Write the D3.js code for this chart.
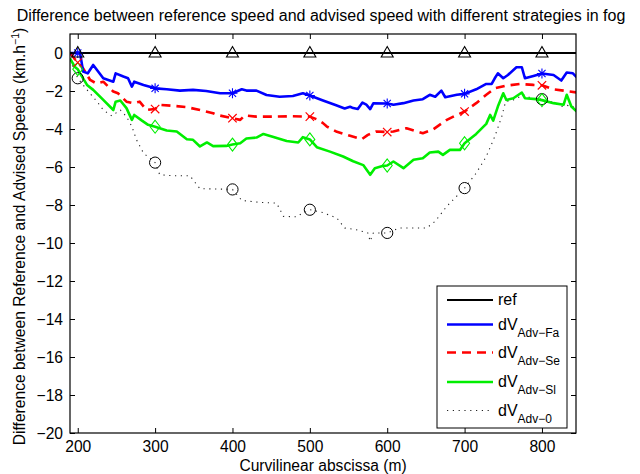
<!DOCTYPE html>
<html>
<head>
<meta charset="utf-8">
<script src="https://cdn.jsdelivr.net/npm/d3@7"></script>
<style>
  html, body { margin: 0; padding: 0; background: #fff; }
  svg { display: block; font-family: "Liberation Sans", Arial, Helvetica, sans-serif; }
</style>
</head>
<body>
<svg id="chart" width="640" height="474"></svg>
<script>
// Curvilinear abscissa (m) vs. speed difference (km/h)
const xTicks = [200, 300, 400, 500, 600, 700, 800];
const yTicks = [0, -2, -4, -6, -8, -10, -12, -14, -16, -18, -20];
const markerX = [200, 300, 400, 500, 600, 700, 800];

const refSeries = [[190, 0], [200, 0], [300, 0], [400, 0], [500, 0], [600, 0], [700, 0], [800, 0], [845, 0]];

const faSeries = [[190,0],[200,0],[203,0],[207,-0.98],[213,-1.07],[220,-0.63],[233,-1.33],[246,-1.51],[249,-1.07],[259,-1.24],[265,-1.33],[270,-1.77],[273,-1.51],[285,-1.68],[300,-1.86],[315,-1.91],[332,-1.98],[349,-1.94],[366,-2.0],[384,-2.12],[400,-2.12],[412,-1.91],[418,-1.98],[431,-1.98],[444,-2.21],[461,-2.3],[478,-2.26],[491,-2.12],[500,-2.24],[517,-2.5],[534,-2.75],[545,-2.92],[552,-2.83],[556,-2.9],[562,-2.95],[568,-2.61],[573,-2.72],[578,-2.95],[582,-2.65],[600,-2.66],[608,-2.72],[621,-2.64],[634,-2.5],[646,-2.43],[655,-2.2],[662,-2.3],[670,-1.98],[675,-2.33],[690,-2.2],[700,-2.15],[715,-1.91],[728,-1.63],[735,-1.63],[739,-1.33],[743,-1.07],[750,-1.33],[756,-1.16],[767,-0.75],[774,-0.75],[778,-1.33],[789,-1.21],[800,-1.08],[815,-1.16],[825,-1.45],[832,-1.03],[840,-1.07],[845,-1.28]];

const seSeries = [[190,0],[199,-0.46],[200,-0.5],[207,-0.81],[216,-1.42],[224,-1.6],[233,-1.51],[246,-2.03],[252,-2.12],[263,-2.56],[272,-2.65],[280,-2.56],[289,-3.0],[300,-2.95],[306,-2.73],[323,-2.78],[341,-2.85],[358,-3.0],[375,-3.17],[380,-3.26],[400,-3.43],[410,-3.52],[416,-3.28],[431,-3.35],[453,-3.35],[478,-3.33],[500,-3.35],[509,-3.49],[517,-3.69],[522,-3.87],[535,-4.15],[552,-4.36],[567,-4.54],[575,-4.31],[586,-4.13],[600,-4.16],[608,-4.13],[625,-3.96],[646,-4.22],[659,-4.03],[677,-3.52],[690,-3.26],[700,-3.08],[715,-2.64],[728,-2.2],[739,-1.86],[752,-1.73],[771,-1.63],[789,-1.68],[800,-1.7],[815,-1.91],[828,-1.98],[845,-2.08]];

const slSeries = [[190,-0.28],[196,-0.72],[200,-0.85],[203,-1.07],[212,-1.68],[220,-1.94],[233,-2.47],[246,-3.0],[249,-2.56],[255,-2.5],[263,-2.9],[270,-3.52],[273,-3.26],[283,-3.56],[291,-3.78],[300,-3.88],[315,-4.08],[328,-4.13],[341,-4.54],[349,-4.57],[358,-4.92],[367,-4.71],[375,-4.9],[392,-4.89],[400,-4.82],[410,-4.75],[418,-4.5],[431,-4.45],[440,-4.26],[453,-4.42],[470,-4.63],[485,-4.71],[491,-4.43],[500,-4.55],[509,-4.96],[526,-5.19],[543,-5.45],[556,-5.7],[569,-5.9],[578,-6.41],[584,-6.06],[595,-5.94],[600,-5.92],[608,-5.71],[621,-6.06],[634,-5.62],[646,-5.54],[655,-5.24],[666,-5.19],[672,-5.36],[681,-5.1],[694,-5.1],[700,-4.75],[715,-4.26],[728,-3.73],[733,-3.26],[737,-3.56],[743,-2.82],[750,-2.12],[754,-2.47],[763,-2.38],[774,-2.08],[778,-2.38],[793,-2.43],[800,-2.48],[815,-2.64],[828,-2.72],[832,-2.2],[838,-2.82],[845,-3.08]];

const zeroSeries = [[190,-0.37],[200,-1.33],[212,-1.94],[225,-2.56],[233,-3.0],[244,-3.31],[255,-3.0],[263,-3.35],[270,-3.87],[276,-4.57],[285,-5.27],[300,-5.77],[306,-6.41],[323,-6.46],[345,-6.46],[354,-6.94],[358,-7.14],[380,-7.16],[400,-7.18],[412,-7.76],[435,-7.86],[457,-7.9],[466,-8.6],[483,-8.62],[487,-8.51],[500,-8.25],[517,-8.4],[535,-8.69],[545,-9.21],[560,-9.3],[575,-9.47],[578,-9.91],[582,-9.47],[600,-9.47],[616,-9.21],[651,-9.21],[662,-8.86],[677,-8.07],[700,-7.11],[715,-6.32],[728,-5.45],[739,-4.4],[748,-3.35],[753,-2.56],[763,-2.47],[776,-2.2],[789,-2.43],[800,-2.43],[815,-2.61],[825,-2.82],[832,-2.75],[840,-2.82],[845,-3.1]];

const seriesNames = ["ref", "Fa", "Se", "Sl", "0"];

const margin = { left: 70, right: 64, top: 34, bottom: 41 };
const W = 640, H = 474;
const svg = d3.select("#chart");

const x = d3.scaleLinear().domain([190, 844]).range([margin.left, W - margin.right]);
const y = d3.scaleLinear().domain([-20, 1]).range([H - margin.bottom, margin.top]);

const plotW = W - margin.left - margin.right;
const plotH = H - margin.top - margin.bottom;

const defs = svg.append("defs");
defs.append("clipPath").attr("id", "plot-clip")
  .append("rect").attr("x", margin.left).attr("y", margin.top).attr("width", plotW).attr("height", plotH);

const labelFont = 15.6;

// Title
svg.append("text")
  .attr("x", 321).attr("y", 21)
  .attr("text-anchor", "middle")
  .attr("font-size", 16)
  .text("Difference between reference speed and advised speed with different strategies in fog");

// Axes (ticks pointing inward, MATLAB style)
const tickLen = 5;
const axisBottom = d3.axisBottom(x).tickValues(xTicks).tickSizeInner(-tickLen).tickSizeOuter(0).tickPadding(8);
const axisTop = d3.axisTop(x).tickValues(xTicks).tickSizeInner(-tickLen).tickSizeOuter(0).tickFormat("");
const fmt = d => (d < 0 ? "\u2212" + Math.abs(d) : String(d));
const axisLeft = d3.axisLeft(y).tickValues(yTicks).tickSizeInner(-tickLen).tickSizeOuter(0).tickPadding(7).tickFormat(fmt);
const axisRight = d3.axisRight(y).tickValues(yTicks).tickSizeInner(-tickLen).tickSizeOuter(0).tickFormat("");

const gB = svg.append("g").attr("transform", `translate(0,${H - margin.bottom})`).call(axisBottom);
const gT = svg.append("g").attr("transform", `translate(0,${margin.top})`).call(axisTop);
const gL = svg.append("g").attr("transform", `translate(${margin.left},0)`).call(axisLeft);
const gR = svg.append("g").attr("transform", `translate(${W - margin.right},0)`).call(axisRight);
[gB, gT, gL, gR].forEach(g => {
  g.select(".domain").remove();
  g.selectAll(".tick line").attr("stroke", "#000").attr("stroke-width", 1);
  g.selectAll("text").attr("font-size", labelFont).attr("fill", "#000")
    .attr("font-family", "'Liberation Sans', Arial, Helvetica, sans-serif");
});

// Axis labels
svg.append("text")
  .attr("x", 323).attr("y", 471)
  .attr("text-anchor", "middle")
  .attr("font-size", labelFont)
  .text("Curvilinear abscissa (m)");

const yl = svg.append("text")
  .attr("transform", `translate(25,${(margin.top + H - margin.bottom) / 2 + 3}) rotate(-90)`)
  .attr("text-anchor", "middle")
  .attr("font-size", labelFont);
yl.append("tspan").text("Difference between Reference and Advised Speeds (km.h");
yl.append("tspan").attr("dy", -6).attr("font-size", 10.5).text("\u22121");
yl.append("tspan").attr("dy", 6).text(")");

// Data lines
const line = d3.line().x(d => x(d[0])).y(d => y(d[1]));
const plot = svg.append("g").attr("clip-path", "url(#plot-clip)");

const styles = {
  ref:  { color: "#000000", width: 2.2, dash: null },
  Fa:   { color: "#0000ff", width: 2.6, dash: null },
  Se:   { color: "#ff0000", width: 2.6, dash: "9,6" },
  Sl:   { color: "#00ee00", width: 2.6, dash: null },
  "0":  { color: "#222222", width: 1.1, dash: "1.2,4.6" }
};
const dataByName = { ref: refSeries, Fa: faSeries, Se: seSeries, Sl: slSeries, "0": zeroSeries };

["0", "Sl", "Se", "Fa", "ref"].forEach(name => {
  const s = styles[name];
  plot.append("path")
    .datum(dataByName[name])
    .attr("fill", "none")
    .attr("stroke", s.color)
    .attr("stroke-width", s.width)
    .attr("stroke-dasharray", s.dash)
    .attr("stroke-linejoin", "round")
    .attr("d", line);
});

// Marker glyphs
const markerPath = {
  ref: () => "M0,-6.5L6,4L-6,4Z",
  Fa: () => "M-5,0L5,0M0,-5L0,5M-3.6,-3.6L3.6,3.6M-3.6,3.6L3.6,-3.6",
  Se: () => "M-4.2,-4.2L4.2,4.2M-4.2,4.2L4.2,-4.2",
  Sl: () => "M0,-6.5L5,0L0,6.5L-5,0Z",
  "0": () => d3.symbol().type(d3.symbolCircle).size(Math.PI * 5.6 * 5.6)()
};
const markerStroke = { ref: 1.1, Fa: 1.1, Se: 1.2, Sl: 1.1, "0": 1.0 };
const markerColor = { ref: "#000", Fa: "#0000ff", Se: "#ff0000", Sl: "#00ee00", "0": "#000" };

["0", "Sl", "Se", "Fa", "ref"].forEach(name => {
  const pts = dataByName[name].filter(d => markerX.includes(d[0]));
  plot.selectAll(null).data(pts).enter().append("path")
    .attr("transform", d => `translate(${x(d[0])},${y(d[1])})`)
    .attr("d", markerPath[name]())
    .attr("fill", "none")
    .attr("stroke", markerColor[name])
    .attr("stroke-width", markerStroke[name]);
});

// Plot frame
svg.append("rect")
  .attr("x", margin.left).attr("y", margin.top)
  .attr("width", plotW).attr("height", plotH)
  .attr("fill", "none").attr("stroke", "#000").attr("stroke-width", 1.2);

// Legend
const lg = svg.append("g");
lg.append("rect")
  .attr("x", 437).attr("y", 286).attr("width", 130).attr("height", 142)
  .attr("fill", "#fff").attr("stroke", "#000").attr("stroke-width", 1);
const legendY = [300, 324.5, 352.5, 382, 410.5];
seriesNames.forEach((name, i) => {
  const s = styles[name];
  const ly = legendY[i];
  lg.append("line")
    .attr("x1", 447).attr("x2", 493).attr("y1", ly).attr("y2", ly)
    .attr("stroke", s.color).attr("stroke-width", s.width)
    .attr("stroke-dasharray", s.dash);
  const t = lg.append("text").attr("x", 498).attr("y", ly + 5).attr("font-size", 16);
  if (name === "ref") {
    t.text("ref");
  } else {
    t.append("tspan").text("dV");
    t.append("tspan").attr("dy", 7).attr("font-size", 12).text("Adv\u2212" + name);
  }
});
</script>
</body>
</html>
